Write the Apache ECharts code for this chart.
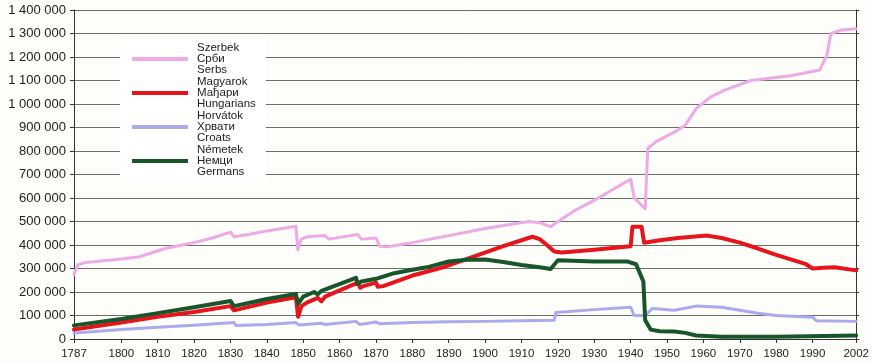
<!DOCTYPE html>
<html><head><meta charset="utf-8">
<script src="https://cdn.jsdelivr.net/npm/echarts@6/dist/echarts.min.js"></script>
<style>html,body{margin:0;padding:0;background:#fdfdf9}#c{width:872px;height:363px}</style>
</head><body><div id="c"></div>
<script>
// x-axis tick labels (years)
const yearTicks = [1787,1800,1810,1820,1830,1840,1850,1860,1870,1880,1890,1900,1910,1920,1930,1940,1950,1960,1970,1980,1990,2002];

// legend labels (Hungarian / Serbian / English)
const serbsLabel = ['Szerbek','Срби','Serbs'];
const hungLabel = ['Magyarok','Мађари','Hungarians'];
const croatsLabel = ['Horvátok','Хрвати','Croats'];
const germansLabel = ['Németek','Немци','Germans'];

// [year, population]
const serbs = [[1787,275000],[1788,315000],[1790,325000],[1800,340000],[1805,350000],[1808,365000],[1812,385000],[1815,395000],[1820,410000],[1825,430000],[1830,455000],[1831,435000],[1835,445000],[1840,460000],[1848,480000],[1848.5,380000],[1849.5,425000],[1851,435000],[1856,440000],[1857,425000],[1865,445000],[1866,425000],[1870,430000],[1871,395000],[1873,392000],[1880,410000],[1890,440000],[1900,470000],[1912,500000],[1915,495000],[1918,478000],[1920,500000],[1925,550000],[1930,590000],[1935,635000],[1940,680000],[1941,600000],[1944,555000],[1944.7,810000],[1947,840000],[1952,880000],[1955,910000],[1958,980000],[1962,1030000],[1966,1060000],[1973,1100000],[1984,1120000],[1992,1145000],[1994,1210000],[1995,1300000],[1998,1315000],[2002,1320000]];

const hungarians = [[1787,40000],[1800,70000],[1810,95000],[1820,115000],[1830,140000],[1831,122000],[1840,155000],[1848,178000],[1848.6,95000],[1849.5,140000],[1851,155000],[1854,175000],[1855,160000],[1856,180000],[1865,240000],[1865.7,218000],[1866.5,225000],[1870,240000],[1870.5,222000],[1872,225000],[1880,270000],[1888,303000],[1897,352000],[1905,395000],[1913,435000],[1915,425000],[1917,400000],[1919,372000],[1921,368000],[1930,380000],[1940,395000],[1940.5,478000],[1943,478000],[1943.7,410000],[1948,420000],[1953,430000],[1961,440000],[1965,430000],[1970,410000],[1975,385000],[1980,358000],[1988,320000],[1990,300000],[1993,303000],[1996,305000],[2002,292000]];

const croats = [[1787,25000],[1800,40000],[1810,50000],[1820,58000],[1831,70000],[1831.5,57000],[1840,62000],[1848,70000],[1848.8,60000],[1855,67000],[1856,62000],[1864.5,75000],[1865.5,62000],[1870,72000],[1871,65000],[1880,70000],[1890,73000],[1900,75000],[1910,78000],[1919,80000],[1919.5,113000],[1930,125000],[1940,135000],[1941,100000],[1944,100000],[1946,130000],[1952,122000],[1958,140000],[1965,135000],[1975,110000],[1980,100000],[1990,93000],[1991,78000],[2002,75000]];

const germans = [[1787,58000],[1800,85000],[1810,110000],[1820,135000],[1830,162000],[1831,140000],[1840,170000],[1848,192000],[1848.6,150000],[1850,180000],[1853,200000],[1854,190000],[1855,205000],[1864.5,260000],[1865,235000],[1866,245000],[1870,256000],[1875,280000],[1880,295000],[1884,305000],[1890,330000],[1895,337000],[1900,338000],[1905,328000],[1910,315000],[1915,305000],[1918,298000],[1920,335000],[1930,330000],[1939,330000],[1941.5,318000],[1943.5,245000],[1944,80000],[1945.5,40000],[1948,33000],[1952,32000],[1955,26000],[1958,15000],[1965,10000],[1980,10000],[2002,15000]];

const FONT = "'Liberation Sans', Arial, sans-serif";
const fmt = v => String(v).replace(/\B(?=(\d{3})+(?!\d))/g, ' ');
const labelMap = {Serbs: serbsLabel, Hungarians: hungLabel, Croats: croatsLabel, Germans: germansLabel};

const chart = echarts.init(document.getElementById('c'), null, {renderer: 'canvas'});
const mk = (name, data, color, width, z) => ({
  name, type: 'line', data, showSymbol: false, symbol: 'none', smooth: false, z,
  lineStyle: {color, width, cap: 'round', join: 'round'}, itemStyle: {color}
});
chart.setOption({
  backgroundColor: '#fdfdf9',
  animation: false,
  textStyle: {fontFamily: FONT},
  grid: {left: 74, right: 15, top: 10, bottom: 24},
  legend: {
    left: 120, top: 37, orient: 'vertical', itemGap: 0,
    padding: [5, 10, 2, 12], backgroundColor: '#ffffff',
    itemWidth: 56, itemHeight: 4, icon: 'rect',
    data: ['Serbs','Hungarians','Croats','Germans'],
    formatter: n => labelMap[n].join('\n'),
    textStyle: {fontFamily: FONT, fontSize: 11.5, lineHeight: 11, color: '#222', padding: [0,0,0,4]}
  },
  xAxis: {
    type: 'value', min: 1787, max: 2002,
    axisLine: {show: true, lineStyle: {color: '#333', width: 1}},
    axisTick: {show: true, customValues: yearTicks, length: 4, lineStyle: {color: '#333'}},
    axisLabel: {customValues: yearTicks, formatter: v => String(v), color: '#222', fontSize: 11.5, margin: 9, fontFamily: FONT, showMinLabel: true, showMaxLabel: true},
    splitLine: {show: false}
  },
  yAxis: [{
    type: 'value', min: 0, max: 1400000, interval: 100000,
    axisLine: {show: true, lineStyle: {color: '#333', width: 1}},
    axisTick: {show: true, length: 4, lineStyle: {color: '#333'}},
    axisLabel: {color: '#222', fontSize: 13, margin: 8, formatter: fmt, fontFamily: FONT},
    splitLine: {show: true, lineStyle: {color: '#6e6e68', width: 1}}
  }, {
    type: 'value', position: 'right', min: 0, max: 1400000, interval: 100000,
    axisLine: {show: true, lineStyle: {color: '#333', width: 1}},
    axisTick: {show: true, length: 3, lineStyle: {color: '#333'}},
    axisLabel: {show: false}, splitLine: {show: false}
  }],
  series: [
    mk('Serbs', serbs, '#eeaae6', 3, 2),
    mk('Croats', croats, '#aaaaee', 3, 3),
    mk('Hungarians', hungarians, '#e8141c', 4, 4),
    mk('Germans', germans, '#16562a', 4, 5)
  ]
});
</script></body></html>
